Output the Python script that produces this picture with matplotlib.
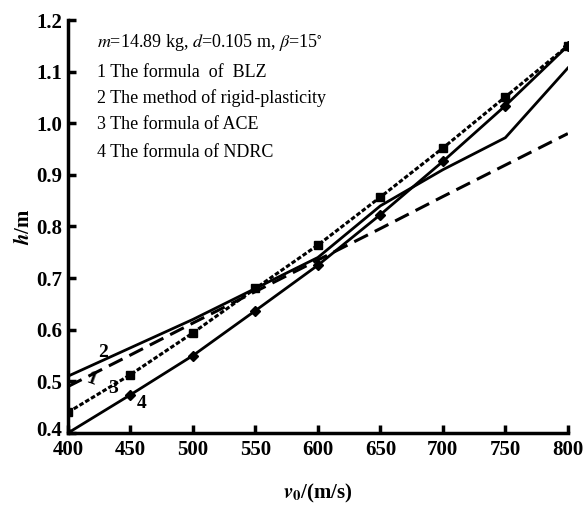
import matplotlib
matplotlib.use("Agg")
import matplotlib.pyplot as plt
import matplotlib.transforms as mtransforms

v0 = [400, 450, 500, 550, 600, 650, 700, 750, 800]
h_blz = [0.49, 0.551, 0.613, 0.674, 0.735, 0.796, 0.858, 0.919, 0.98]
h_rigid = [0.51, 0.565, 0.62, 0.68, 0.74, 0.84, 0.91, 0.972, 1.107]
h_ace = [0.44, 0.513, 0.594, 0.68, 0.764, 0.857, 0.952, 1.051, 1.15]
h_ndrc = [0.40, 0.474, 0.55, 0.637, 0.725, 0.823, 0.926, 1.034, 1.15]

xticks = [400, 450, 500, 550, 600, 650, 700, 750, 800]
yticks = [0.4, 0.5, 0.6, 0.7, 0.8, 0.9, 1.0, 1.1, 1.2]

plt.rcParams['font.family'] = ['Liberation Serif', 'DejaVu Serif']
plt.rcParams['mathtext.fontset'] = 'stix'

fig = plt.figure(figsize=(5.86, 5.13), dpi=100)
ax = fig.add_axes([0.116, 0.156, 0.853, 0.805])

ax.plot(v0, h_blz, color='black', lw=2.2, ls=(0, (5, 2.5)))
ax.plot(v0, h_rigid, color='black', lw=2.0, ls='-')
ax.plot(v0, h_ace, color='black', lw=2.2, ls=(0, (1.5, 0.7)), marker='s', ms=6)
ax.plot(v0, h_ndrc, color='black', lw=2.0, ls='-', marker='D', ms=5)

ax.set_xlim(400, 800)
ax.set_ylim(0.4, 1.2)
ax.set_xticks(xticks)
ax.set_yticks(yticks)
ax.set_xticklabels([str(x) for x in xticks], fontweight='bold')
ax.set_yticklabels([f"{y:.1f}" for y in yticks], fontweight='bold')

for s in ['top', 'right']:
    ax.spines[s].set_visible(False)
for s in ['left', 'bottom']:
    ax.spines[s].set_linewidth(2.5)
ax.tick_params(direction='in', length=6, width=2.5, labelsize=15)
ax.tick_params(axis='x', pad=5)
ax.tick_params(axis='y', pad=4)

# nudge the lowest y tick label up slightly so it does not collide with "400"
offset = mtransforms.ScaledTranslation(0, 3 / 72, fig.dpi_scale_trans)
lab0 = ax.get_yticklabels()[0]
lab0.set_transform(lab0.get_transform() + offset)

ax.set_xlabel(r'$\mathbfit{v}_{\mathbf{0}}$/(m/s)', fontsize=15, fontweight='bold', labelpad=16)
ax.set_ylabel(r'$\mathbfit{h}$/m', fontsize=15, fontweight='bold', labelpad=2)

# Annotation block
ax.text(0.058, 0.945, r'$m$=14.89 kg, $d$=0.105 m, $\beta$=15$^{\circ}$',
        transform=ax.transAxes, fontsize=13, va='center', ha='left')
legend_lines = ["1 The formula  of  BLZ",
                "2 The method of rigid-plasticity",
                "3 The formula of ACE",
                "4 The formula of NDRC"]
ys = [0.874, 0.812, 0.746, 0.680]
for t, y in zip(legend_lines, ys):
    ax.text(0.058, y, t, transform=ax.transAxes, fontsize=13, va='center', ha='left')

# Curve number labels
ax.text(428, 0.555, '2', fontsize=14, ha='center', va='center', fontweight='bold')
ax.text(419, 0.503, '1', fontsize=14, ha='center', va='center', rotation=-20, fontweight='bold')
ax.text(436, 0.487, '3', fontsize=14, ha='center', va='center', fontweight='bold')
ax.text(459, 0.457, '4', fontsize=14, ha='center', va='center', fontweight='bold')

fig.savefig('out.png', dpi=100)
